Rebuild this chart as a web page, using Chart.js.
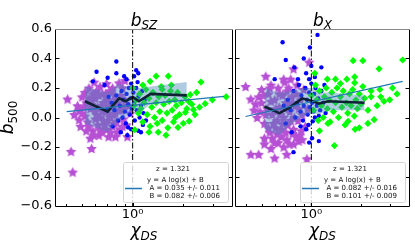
<!DOCTYPE html>
<html><head><meta charset="utf-8">
<script src="https://cdn.jsdelivr.net/npm/chart.js@4.4.0/dist/chart.umd.min.js"></script>
<style>
html,body{margin:0;padding:0;background:#fff;width:415px;height:252px;overflow:hidden}
#c1{position:absolute;left:0;top:0}
#c2{position:absolute;left:230px;top:0}
</style></head><body>
<canvas id="c1" width="238" height="252"></canvas>
<canvas id="c2" width="185" height="252"></canvas>
<script>
// ---------- axes / ticks ----------
const xRange = [0.35, 3.9];
const yRange = [-0.6, 0.6];
const yTickValues = [-0.6, -0.4, -0.2, 0, 0.2, 0.4, 0.6];
const xMajorTicks = [1];
const xMinorTicks = [0.4, 0.5, 0.6, 0.7, 0.8, 0.9, 2, 3];
const panelTitles = ['SZ', 'X'];
const redshiftText = 'z = 1.321';
const fitFormula = 'y = A log(x) + B';
const szFitText = ['A = 0.035 +/- 0.011', 'B = 0.082 +/- 0.006'];
const xFitText = ['A = 0.082 +/- 0.016', 'B = 0.101 +/- 0.009'];

// ---------- b_SZ panel ----------
const szPurple = [[0.41,0.125],[0.50,0.14],[0.47,0.08],[0.48,0.05],[0.45,0.02],[0.43,-0.23],[0.57,-0.21],[0.44,-0.37],[0.49,-0.06],[0.48,-0.015],[0.59,0.24],[0.83,0.235],[0.9,0.25],[0.93,-0.13],[0.79,-0.13],[0.52,0.17],[0.55,0.2],[0.64,0.21],[0.7,0.23],[0.76,0.2],[0.87,0.2],[0.53,0.1],[0.56,0.06],[0.54,-0.03],[0.58,-0.09],[0.6,0.13],[0.61,0.02],[0.62,-0.05],[0.63,-0.12],[0.65,0.08],[0.66,0.16],[0.67,-0.02],[0.69,0.04],[0.7,-0.08],[0.71,0.12],[0.72,-0.13],[0.74,0.0],[0.75,0.07],[0.76,-0.06],[0.78,0.15],[0.79,0.03],[0.8,-0.03],[0.82,0.1],[0.84,-0.08],[0.86,0.05],[0.88,-0.01],[0.9,0.12],[0.92,-0.05],[0.95,0.08],[0.57,0.12],[0.6,-0.01],[0.66,-0.1],[0.73,0.18],[0.52,0.01],[0.68,0.1],[0.81,-0.1],[0.77,0.09],[0.64,0.0],[0.58,0.16],[0.97,0.03],[0.51,0.07],[0.55,-0.06],[0.57,0.09],[0.59,-0.12],[0.61,0.18],[0.62,0.07],[0.64,-0.08],[0.66,0.04],[0.68,-0.05],[0.69,0.16],[0.71,-0.02],[0.73,0.08],[0.74,-0.1],[0.77,0.02],[0.78,-0.04],[0.8,0.12],[0.83,0.05],[0.85,0.15],[0.87,-0.06],[0.89,0.08],[0.55,0.13],[0.6,0.05],[0.63,0.15],[0.7,0.15],[0.75,0.18],[0.67,0.1],[0.72,0.03],[0.56,-0.14],[0.53,-0.09],[0.5,0.03]];
const szBlue = [[0.8,0.38],[0.61,0.31],[0.71,0.27],[0.8,0.3],[0.89,0.28],[0.92,0.26],[0.58,0.245],[0.68,0.22],[1.05,0.32],[1.08,0.30],[1.02,0.28],[0.76,-0.06],[0.94,-0.067],[1.08,-0.09],[1.15,-0.05],[0.75,0.1],[0.78,0.05],[0.8,0.15],[0.82,-0.02],[0.84,0.08],[0.86,0.18],[0.87,0.0],[0.88,0.12],[0.9,0.04],[0.91,-0.04],[0.92,0.16],[0.94,0.09],[0.95,0.2],[0.96,0.02],[0.97,0.13],[0.98,-0.08],[0.99,0.06],[1.01,0.17],[1.02,0.1],[1.03,-0.02],[1.05,0.2],[1.06,0.05],[1.08,0.14],[1.1,0.0],[1.12,0.08],[1.14,0.18],[1.16,0.03],[1.18,0.12],[0.85,-0.1],[0.72,0.14],[0.7,0.05],[0.98,0.23],[1.2,-0.02],[1.12,-0.1],[0.93,-0.12],[1.07,0.24]];
const szGreen = [[1.38,0.28],[1.63,0.28],[1.27,0.245],[2.55,0.24],[1.5,0.19],[2.2,0.155],[3.6,0.14],[2.98,0.12],[2.7,0.094],[2.5,0.07],[2.3,0.053],[2.06,0.035],[1.86,-0.067],[2.17,-0.025],[1.8,0.0],[1.03,-0.083],[1.0,0.2],[1.05,0.12],[1.08,0.03],[1.1,0.16],[1.12,0.06],[1.15,-0.03],[1.17,0.1],[1.2,0.19],[1.22,0.02],[1.25,0.13],[1.27,-0.06],[1.3,0.07],[1.32,0.17],[1.35,0.0],[1.38,0.1],[1.4,-0.04],[1.43,0.14],[1.45,0.04],[1.48,0.21],[1.5,-0.02],[1.53,0.09],[1.56,0.15],[1.6,0.03],[1.62,-0.07],[1.65,0.11],[1.68,0.18],[1.72,0.05],[1.75,-0.03],[1.78,0.12],[1.82,0.08],[1.85,0.17],[1.9,0.02],[1.95,0.1],[2.0,-0.04],[2.05,0.14],[2.1,0.06],[2.15,0.11],[2.25,0.09],[2.35,0.02],[1.15,0.22],[1.02,0.08],[1.25,-0.1],[1.42,-0.1],[1.58,-0.12],[1.7,0.22],[2.4,0.17]];
const szBinX = [0.52, 0.71, 0.83, 0.91, 1.0, 1.09, 1.28, 2.1];
const szBinMean = [0.11, 0.04, 0.13, 0.11, 0.14, 0.11, 0.16, 0.15];
const szBandHigh = [0.21, 0.17, 0.23, 0.21, 0.22, 0.2, 0.21, 0.24];
const szBandLow = [-0.04, -0.1, -0.02, 0.0, 0.05, 0.03, 0.09, 0.11];
const szFitX = [0.405, 3.5];
const szFitY = [0.04, 0.143];

// ---------- b_X panel ----------
const xPurple = [[0.4,0.21],[0.53,0.28],[0.68,0.26],[0.75,0.26],[0.78,0.33],[0.97,0.375],[0.43,0.125],[0.5,0.19],[0.48,0.14],[0.57,0.22],[0.43,-0.25],[0.48,-0.25],[0.57,-0.21],[0.6,-0.275],[0.71,-0.25],[0.94,-0.28],[0.58,-0.14],[0.63,-0.17],[0.71,-0.15],[0.84,-0.16],[0.88,-0.15],[0.77,-0.11],[0.61,-0.07],[0.45,0.05],[0.47,0.0],[0.5,0.1],[0.52,-0.04],[0.54,0.06],[0.55,0.16],[0.56,-0.1],[0.58,0.02],[0.6,0.12],[0.62,-0.02],[0.63,0.2],[0.64,0.07],[0.66,-0.08],[0.67,0.15],[0.68,0.0],[0.7,0.1],[0.72,-0.05],[0.73,0.2],[0.74,0.04],[0.76,0.14],[0.78,-0.08],[0.8,0.08],[0.82,0.22],[0.83,-0.02],[0.86,0.12],[0.88,0.02],[0.9,0.19],[0.92,-0.06],[0.95,0.06],[0.66,-0.13],[0.74,-0.18],[0.81,-0.13],[0.52,-0.14],[0.69,0.24],[0.49,0.04],[0.51,0.15],[0.53,0.02],[0.55,-0.07],[0.57,0.11],[0.59,-0.04],[0.61,0.06],[0.62,-0.11],[0.64,0.16],[0.65,0.02],[0.67,-0.04],[0.69,0.06],[0.7,-0.1],[0.71,0.18],[0.73,0.09],[0.75,-0.02],[0.77,0.1],[0.79,0.0],[0.81,0.16],[0.84,0.06],[0.87,-0.09],[0.6,-0.17],[0.68,-0.2],[0.78,-0.18],[0.56,0.2],[0.46,0.09],[0.52,-0.18],[0.85,-0.12]];
const xBlue = [[0.67,0.51],[1.09,0.56],[0.98,0.475],[0.7,0.39],[0.9,0.4],[0.79,0.34],[1.0,0.35],[1.15,0.34],[0.93,0.3],[0.6,0.26],[0.83,0.26],[0.97,0.26],[1.05,0.275],[0.78,-0.235],[0.97,-0.17],[1.11,-0.16],[1.01,-0.14],[0.86,-0.06],[0.93,-0.08],[1.02,-0.026],[1.05,0.0],[1.11,0.01],[0.96,-0.05],[0.72,0.12],[0.75,0.05],[0.78,0.18],[0.8,0.0],[0.82,0.1],[0.84,0.22],[0.86,0.04],[0.87,0.15],[0.89,-0.02],[0.9,0.08],[0.92,0.2],[0.94,0.12],[0.95,0.02],[0.97,0.17],[0.98,0.07],[1.0,0.23],[1.01,0.1],[1.03,0.04],[1.04,0.16],[1.06,0.2],[1.08,0.08],[1.1,0.13],[1.13,0.05],[1.15,0.18],[1.18,0.1],[1.2,0.22],[0.68,0.08],[0.7,-0.04],[0.76,-0.1],[1.22,0.03]];
const xGreen = [[1.79,0.385],[2.05,0.385],[3.57,0.39],[2.57,0.33],[1.05,0.3],[1.25,0.26],[1.4,0.26],[1.5,0.23],[1.64,0.26],[1.83,0.275],[1.83,0.235],[2.05,0.21],[2.3,0.18],[2.63,0.14],[2.98,0.12],[2.75,0.11],[2.3,0.14],[1.26,-0.04],[1.67,-0.026],[2.2,-0.04],[2.4,-0.015],[1.84,-0.08],[1.38,-0.19],[1.95,-0.07],[1.0,0.15],[1.03,0.05],[1.06,0.22],[1.08,0.12],[1.1,-0.02],[1.12,0.18],[1.15,0.08],[1.18,0.0],[1.2,0.14],[1.23,0.2],[1.25,0.06],[1.28,0.12],[1.3,-0.03],[1.33,0.17],[1.36,0.04],[1.4,0.1],[1.43,0.2],[1.46,0.0],[1.5,0.14],[1.53,0.07],[1.56,0.18],[1.6,-0.05],[1.63,0.1],[1.66,0.03],[1.7,0.16],[1.74,0.08],[1.78,0.19],[1.82,0.01],[1.86,0.12],[1.9,0.06],[1.95,0.16],[2.0,0.09],[2.1,0.13],[2.2,0.05],[2.5,0.08],[2.6,0.19],[1.12,-0.09],[3.1,0.2],[3.3,0.16]];
const xBinX = [0.52, 0.64, 0.73, 0.88, 1.02, 1.11, 1.27, 2.1];
const xBinMean = [0.075, 0.03, 0.064, 0.13, 0.11, 0.094, 0.11, 0.10];
const xBandHigh = [0.2, 0.17, 0.18, 0.2, 0.2, 0.17, 0.17, 0.15];
const xBandLow = [-0.08, -0.12, -0.06, 0.0, 0.03, 0.02, 0.05, 0.05];
const xFitX = [0.40, 3.57];
const xFitY = [0.007, 0.245];

// ---------- helpers ----------
const pairs = arr => arr.map(p => ({x: p[0], y: p[1]}));
const zipXY = (xs, ys) => xs.map((x, i) => ({x: x, y: ys[i]}));

function makeStar(r, color) {
  const s = Math.ceil(r * 2 + 2);
  const c = document.createElement('canvas');
  c.width = s; c.height = s;
  const g = c.getContext('2d');
  g.fillStyle = color;
  g.beginPath();
  for (let i = 0; i < 10; i++) {
    const rr = (i % 2 === 0) ? r : r * 0.5;
    const a = -Math.PI / 2 + i * Math.PI / 5;
    const px = s / 2 + rr * Math.cos(a), py = s / 2 + rr * Math.sin(a) + r * 0.1;
    if (i === 0) g.moveTo(px, py); else g.lineTo(px, py);
  }
  g.closePath(); g.fill();
  return c;
}
const starImg = makeStar(5.5, '#b650d4');

function drawMath(ctx, parts, cx, by) {
  let total = 0;
  parts.forEach(p => { ctx.font = p.f; p.w = ctx.measureText(p.t).width; total += p.w; });
  let x = cx - total / 2;
  ctx.textAlign = 'left'; ctx.textBaseline = 'alphabetic';
  parts.forEach(p => { ctx.font = p.f; ctx.fillText(p.t, x, by + p.dy); x += p.w; });
}

const IT17 = 'italic 17px "DejaVu Sans"';
const IT12 = 'italic 12px "DejaVu Sans"';
const UP12 = '12px "DejaVu Sans"';

function decorPlugin(cfg) {
  return {
    id: 'decor',
    afterDraw(chart) {
      const ctx = chart.ctx, a = chart.chartArea, xs = chart.scales.x, ys = chart.scales.y;
      ctx.save();
      ctx.strokeStyle = '#000'; ctx.lineWidth = 1;
      ctx.beginPath();
      yTickValues.forEach(v => {
        const y = Math.round(ys.getPixelForValue(v)) + 0.5;
        ctx.moveTo(a.left, y); ctx.lineTo(a.left + 3.5, y);
        ctx.moveTo(a.right, y); ctx.lineTo(a.right - 3.5, y);
      });
      xMajorTicks.forEach(v => {
        const x = Math.round(xs.getPixelForValue(v)) + 0.5;
        ctx.moveTo(x, a.bottom); ctx.lineTo(x, a.bottom - 3.5);
      });
      xMinorTicks.forEach(v => {
        const x = Math.round(xs.getPixelForValue(v)) + 0.5;
        ctx.moveTo(x, a.bottom); ctx.lineTo(x, a.bottom - 2);
      });
      ctx.stroke();
      ctx.beginPath();
      ctx.moveTo(a.left - 0.5, a.top); ctx.lineTo(a.left - 0.5, a.bottom + 0.5);
      ctx.lineTo(a.right + 0.5, a.bottom + 0.5); ctx.lineTo(a.right + 0.5, a.top);
      ctx.stroke();
      ctx.strokeStyle = '#888';
      ctx.beginPath(); ctx.moveTo(a.left - 1, a.top + 0.5); ctx.lineTo(a.right + 1, a.top + 0.5); ctx.stroke();

      const bl = a.right - 109, bt = 162, bw = 105, bh = 40;
      ctx.fillStyle = 'rgba(255,255,255,0.8)';
      ctx.strokeStyle = '#d4d4d4'; ctx.lineWidth = 1;
      ctx.beginPath();
      if (ctx.roundRect) ctx.roundRect(bl + 0.5, bt + 0.5, bw, bh, 2); else ctx.rect(bl + 0.5, bt + 0.5, bw, bh);
      ctx.fill(); ctx.stroke();
      ctx.strokeStyle = '#1f77b4'; ctx.lineWidth = 1.5;
      ctx.beginPath(); ctx.moveTo(bl + 2, 188.5); ctx.lineTo(bl + 19, 188.5); ctx.stroke();
      ctx.fillStyle = '#111';
      ctx.font = '7px "DejaVu Sans"';
      ctx.textBaseline = 'alphabetic';
      ctx.textAlign = 'center';
      ctx.fillText(redshiftText, bl + 50, 171);
      ctx.textAlign = 'left';
      ctx.fillText(fitFormula, bl + 24, 182);
      ctx.fillText(cfg.fit[0], bl + 26.5, 190);
      ctx.fillText(cfg.fit[1], bl + 26.5, 198);

      ctx.fillStyle = '#000';
      const cx = (a.left + a.right) / 2;
      drawMath(ctx, [{t: 'b', f: IT17, dy: 0}, {t: cfg.title, f: IT12, dy: 2.8}], cx, 26);
      drawMath(ctx, [{t: 'χ', f: IT17, dy: 0}, {t: 'DS', f: IT12, dy: 3.5}], cx, 236);
      if (cfg.ylabel) {
        ctx.save();
        ctx.translate(13, (a.top + a.bottom) / 2);
        ctx.rotate(-Math.PI / 2);
        drawMath(ctx, [{t: 'b', f: IT17, dy: 0}, {t: '500', f: UP12, dy: 3.5}], 0, 0);
        ctx.restore();
      }
      ctx.restore();
    }
  };
}

function makeChart(el, d, cfg) {
  return new Chart(el, {
    type: 'scatter',
    data: {
      datasets: [
        {label: 'purple', data: pairs(d.purple), pointStyle: starImg, pointRadius: 5, order: 10},
        {label: 'blue', data: pairs(d.blue), pointStyle: 'circle', pointRadius: 2.2, backgroundColor: '#0000ff', borderWidth: 0, order: 9},
        {label: 'green', data: pairs(d.green), pointStyle: 'rectRot', pointRadius: 3.6, backgroundColor: '#00ff00', borderWidth: 0, order: 8},
        {type: 'line', label: 'low', data: zipXY(d.binX, d.low), borderWidth: 0, borderColor: 'rgba(0,0,0,0)', pointRadius: 0, fill: false, order: 5},
        {type: 'line', label: 'high', data: zipXY(d.binX, d.high), borderWidth: 0, borderColor: 'rgba(0,0,0,0)', pointRadius: 0, fill: '-1', backgroundColor: 'rgba(70,130,180,0.42)', order: 5},
        {type: 'line', label: 'mean', data: zipXY(d.binX, d.mean), borderColor: '#0e2234', borderWidth: 2.6, pointRadius: 0, fill: false, order: 3},
        {type: 'line', label: 'fit', data: zipXY(d.fitX, d.fitY), borderColor: '#1f77b4', borderWidth: 1.2, pointRadius: 0, fill: false, order: 2},
        {type: 'line', label: 'x=1', data: [{x: 1, y: yRange[0]}, {x: 1, y: yRange[1]}], borderColor: '#000', borderWidth: 1, borderDash: [6, 2, 1.5, 2], pointRadius: 0, fill: false, order: 1}
      ]
    },
    options: {
      responsive: false, animation: false, events: [],
      layout: {padding: cfg.padding},
      plugins: {legend: {display: false}, tooltip: {enabled: false}},
      scales: {
        x: {
          type: 'logarithmic', min: xRange[0], max: xRange[1], bounds: 'data',
          grid: {display: false, drawTicks: false}, border: {display: false},
          ticks: {autoSkip: false, maxRotation: 0, padding: 1, color: '#000',
                  font: {family: 'DejaVu Sans', size: 13},
                  callback: v => Math.abs(v - 1) < 1e-9 ? '10⁰' : ''},
          afterFit: s => { s.height = 46; }
        },
        y: {
          min: yRange[0], max: yRange[1], display: cfg.yDisplay,
          grid: {display: false, drawTicks: false}, border: {display: false},
          afterBuildTicks: s => { s.ticks = yTickValues.map(v => ({value: v})); },
          ticks: {padding: 4, color: '#000', font: {family: 'DejaVu Sans', size: 13},
                  callback: v => (v < 0 ? '\u2212' : '') + Math.abs(v).toFixed(1)},
          afterFit: s => { s.width = cfg.yDisplay ? 56 : 0; }
        }
      }
    },
    plugins: [decorPlugin(cfg)]
  });
}

makeChart(document.getElementById('c1'),
  {purple: szPurple, blue: szBlue, green: szGreen, binX: szBinX, mean: szBinMean, high: szBandHigh, low: szBandLow, fitX: szFitX, fitY: szFitY},
  {padding: {top: 29, right: 4, left: 0, bottom: 0}, yDisplay: true, title: panelTitles[0], fit: szFitText, ylabel: true});
makeChart(document.getElementById('c2'),
  {purple: xPurple, blue: xBlue, green: xGreen, binX: xBinX, mean: xBinMean, high: xBandHigh, low: xBandLow, fitX: xFitX, fitY: xFitY},
  {padding: {top: 29, right: 3, left: 4, bottom: 0}, yDisplay: false, title: panelTitles[1], fit: xFitText, ylabel: false});
</script>
</body></html>
